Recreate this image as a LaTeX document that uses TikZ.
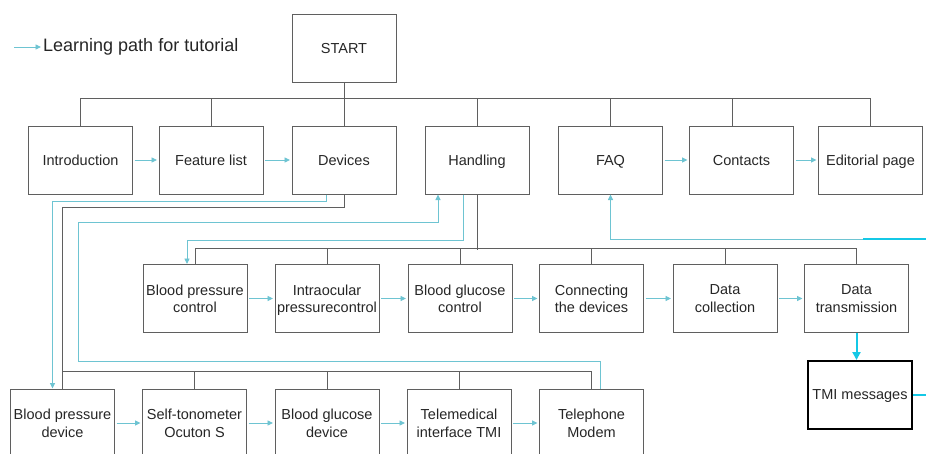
\documentclass[tikz,border=0pt]{standalone}
\usepackage{fontspec}
\setmainfont{Liberation Sans}
\usepackage{xcolor}
\usepackage{tikz}
\usetikzlibrary{positioning,arrows.meta}
\definecolor{learncol}{RGB}{110,196,210}
\definecolor{msgcol}{RGB}{20,200,230}
\definecolor{boxline}{RGB}{95,95,95}

\begin{document}
\begin{tikzpicture}[x=1pt, y=-1pt,
  every node/.style={font=\fontsize{14.5}{17.5}\selectfont, text=black!85},
  box/.style={draw=boxline, line width=1pt, minimum width=104pt, minimum height=68pt, align=center, inner sep=1pt, text depth=0pt},
  tree/.style={draw=boxline, line width=1pt},
  learn/.style={draw=learncol, line width=0.9pt, -{Triangle[length=5.5pt,width=5pt]}},
  step link/.style={learn, shorten <=1.5pt, shorten >=1.5pt},
  msglink/.style={draw=msgcol, line width=2pt}]
   \useasboundingbox (0,0) rectangle (926,453);

   % Legend
   \coordinate (key) at (14,47);
   \node[anchor=west, inner sep=2pt, font=\fontsize{18}{20}\selectfont] (legend) at (41,47) {Learning path for tutorial};
   \draw[learn] (key) -- (legend.west);

   % Main pages
   \node[box] (start) at (344,48) {START};
   \node[box] (intro) at (80.5,160) {Introduction};
   \node[box] (feature) at (211,160) {Feature list};
   \node[box] (devices) at (344,160) {Devices};
   \node[box] (handling) at (477,160) {Handling};
   \node[box] (faq) at (610.5,160) {FAQ};
   \node[box] (contacts) at (741.5,160) {Contacts};
   \node[box] (edit) at (870.5,160) {Editorial page};

   % Handling pages
   \node[box] (bpc) at (195,298.5) {Blood pressure\\control};
   \node[box] (ipc) at (327,298.5) {Intraocular\\pressurecontrol};
   \node[box] (bgc) at (460,298.5) {Blood glucose\\control};
   \node[box] (conn) at (591.5,298.5) {Connecting\\the devices};
   \node[box] (dcol) at (725,298.5) {Data\\collection};
   \node[box] (dtrans) at (856.5,298.5) {Data\\transmission};
   \node[box, draw=black, line width=2pt] (tmi) at (860,395) {TMI messages};

   % Device pages
   \node[box] (bpd) at (62.5,423) {Blood pressure\\device};
   \node[box] (tono) at (194.5,423) {Self-tonometer\\Ocuton S};
   \node[box] (bgd) at (327,423) {Blood glucose\\device};
   \node[box] (telemed) at (459,423) {Telemedical\\interface TMI};
   \node[box] (phone) at (591.5,423) {Telephone\\Modem};

   % Tree lines
   \draw[tree] (start.south) -- ++(0,17);
   \draw[tree] (intro.north) -- ++(0,-27) -| (edit.north);
   \foreach \n in {feature,devices,handling,faq} \draw[tree] (\n.north) -- ++(0,-27);
   \draw[tree] ([xshift=-9pt]contacts.north) -- ++(0,-27);
   \draw[tree] (handling.south) -- ++(0,55);
   \draw[tree] (bpc.north) -- ++(0,-15.5) -| (dtrans.north);
   \foreach \n in {ipc,bgc,conn,dcol} \draw[tree] (\n.north) -- ++(0,-15.5);
   \draw[tree] (devices.south) -- ++(0,13) -| (bpd.north);
   \draw[tree] (bpd.north) -- ++(0,-17) -| (phone.north);
   \foreach \n in {tono,bgd,telemed} \draw[tree] (\n.north) -- ++(0,-17);

   % Learning path
   \draw[step link] (intro) -- (feature);
   \draw[step link] (feature) -- (devices);
   \draw[step link] (faq) -- (contacts);
   \draw[step link] (contacts) -- (edit);
   \draw[step link] (bpc) -- (ipc);
   \draw[step link] (ipc) -- (bgc);
   \draw[step link] (bgc) -- (conn);
   \draw[step link] (conn) -- (dcol);
   \draw[step link] (dcol) -- (dtrans);
   \draw[step link] (bpd) -- (tono);
   \draw[step link] (tono) -- (bgd);
   \draw[step link] (bgd) -- (telemed);
   \draw[step link] (telemed) -- (phone);
   \draw[learn] ([xshift=-18pt]devices.south) -- ++(0,7) -| ([xshift=-10pt]bpd.north);
   \draw[learn] ([xshift=8.5pt]phone.north) -- ++(0,-27) -| (78,222) -| ([xshift=-39pt]handling.south);
   \draw[learn] ([xshift=-14pt]handling.south) -- ++(0,46) -| ([xshift=-8pt]bpc.north);

   % TMI messages loop
   \draw[msglink, -{Triangle[length=8pt,width=8pt]}] (dtrans.south) -- (dtrans.south |- tmi.north);
   \coordinate (back) at (863,239);
   \draw[msglink] (tmi.east) -- ++(30,0) |- (back);
   \draw[learn] (back) -| (faq.south);
\end{tikzpicture}
\end{document}
